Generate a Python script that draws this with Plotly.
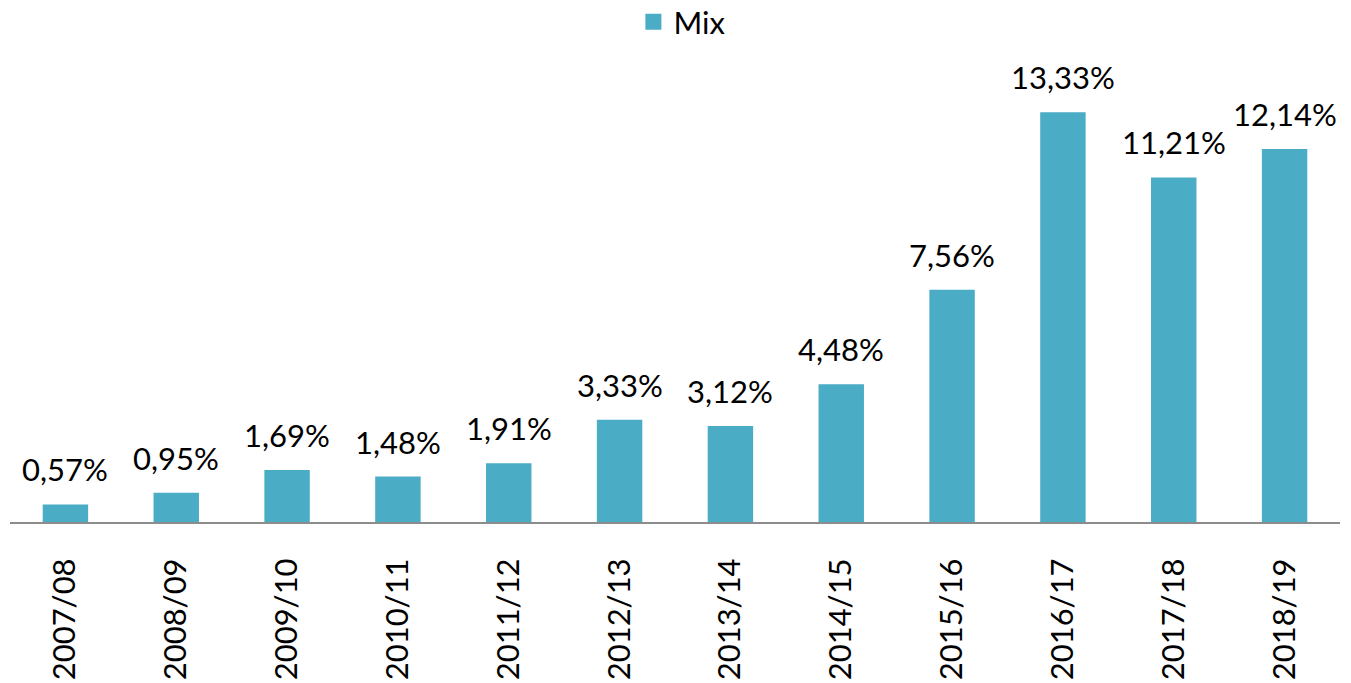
import plotly.graph_objects as go

categories = ["2007/08", "2008/09", "2009/10", "2010/11", "2011/12", "2012/13",
              "2013/14", "2014/15", "2015/16", "2016/17", "2017/18", "2018/19"]
mix_values = [0.57, 0.95, 1.69, 1.48, 1.91, 3.33, 3.12, 4.48, 7.56, 13.33, 11.21, 12.14]
series_name = "Mix"

BAR_COLOR = "#4BACC6"
FONT = "Lato"
FS = 31

labels = [f"{v:.2f}%".replace(".", ",") for v in mix_values]

fig = go.Figure()
fig.add_trace(go.Bar(
    x=categories, y=mix_values, name=series_name,
    marker=dict(color=BAR_COLOR, line=dict(width=0)),
    showlegend=False,
))
# legend proxy with a larger square symbol
fig.add_trace(go.Scatter(
    x=[None], y=[None], mode="markers", name=series_name,
    marker=dict(symbol="square", size=20, color=BAR_COLOR),
))

for c, v, t in zip(categories, mix_values, labels):
    fig.add_annotation(x=c, y=v, text=t, showarrow=False, yanchor="bottom",
                       yshift=14, font=dict(family=FONT, size=FS, color="#000000"))

PLOT_H = 683 - 53 - 169

fig.update_layout(
    width=1351, height=683,
    margin=dict(l=2, r=19, t=53, b=169, autoexpand=False),
    paper_bgcolor="white", plot_bgcolor="white",
    bargap=0.59,
    font=dict(family=FONT, size=FS, color="#000000"),
    showlegend=True,
    legend=dict(orientation="h", x=0.5 + 7 / 1351, xanchor="center",
                y=1 + 39 / PLOT_H, yanchor="middle",
                bgcolor="rgba(0,0,0,0)",
                font=dict(family=FONT, size=FS), itemsizing="trace"),
    xaxis=dict(
        type="category", showgrid=False, zeroline=False, automargin=False,
        showline=True, linecolor="#8c8c8c", linewidth=2,
        ticks="", tickangle=-90, ticklabelstandoff=22,
        tickfont=dict(family=FONT, size=FS, color="#000000"),
    ),
    yaxis=dict(range=[0, 15], visible=False, showgrid=False, zeroline=False,
               automargin=False),
)

fig.write_html("out.html")
